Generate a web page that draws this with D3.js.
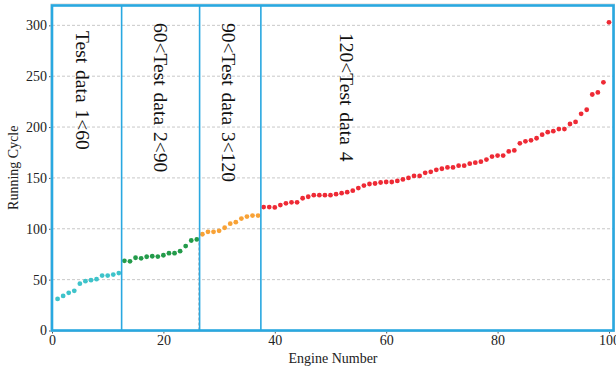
<!DOCTYPE html>
<html>
<head>
<meta charset="utf-8">
<script src="https://cdn.jsdelivr.net/npm/d3@7"></script>
<style>
  body { margin: 0; background: #fff; }
  svg { display: block; font-family: "Liberation Serif", "Times New Roman", serif; }
  .grid line { stroke: #c8c8c8; stroke-dasharray: 3,2; }
</style>
</head>
<body>
<script>
// running cycle of each engine, engines numbered 1..100
const cycles = [31, 34, 37, 39, 46, 48.5, 49.5, 50.5, 54, 54, 55, 56.5,
  68.5, 68, 71.5, 71, 72.5, 73, 72.7, 74, 76, 76, 78, 83, 88.5, 89.5,
  94.6, 97, 97, 98, 101, 105, 106.5, 110, 112, 113, 113,
  121.3, 121.3, 121, 123.3, 125, 126, 126, 130, 131.5, 133, 133, 133, 133, 134, 135, 136, 137.5,
  140, 142.5, 144, 144.5, 145.5, 146, 146, 147, 148.5, 150, 152, 152, 155, 156, 158, 159,
  160.3, 160.3, 162, 162, 164, 165, 166, 168, 171, 172, 172, 176, 177, 184, 186, 187,
  189, 192.5, 195, 196, 198, 198, 203, 205, 213, 217, 232, 234, 244, 303];
// group limits on the engine axis and their labels
const splits = [12.5, 26.5, 37.5];
const groupNames = ["Test data 1<60", "60<Test data 2<90", "90<Test data 3<120", "120<Test data 4"];
const groupColors = ["#3ec3ca", "#239b4a", "#f8a236", "#ee2a35"];
const labelPos = [5.6, 19.5, 31.7, 53];
const xTicks = [0, 20, 40, 60, 80, 100];
const yTicks = [0, 50, 100, 150, 200, 250, 300];

const W = 616, H = 370;
const margin = { top: 5.5, left: 52, right: 2, bottom: 39.5 };

const svg = d3.select("body").append("svg").attr("width", W).attr("height", H);

const x = d3.scaleLinear().domain([0, 100.9]).range([margin.left, W - margin.right]);
const y = d3.scaleLinear().domain([0, 319.5]).range([H - margin.bottom, margin.top]);

const group = e => e <= splits[0] ? 0 : e <= splits[1] ? 1 : e <= splits[2] ? 2 : 3;
const pts = cycles.map((v, i) => ({ e: i + 1, v: v, g: group(i + 1) }));

// horizontal dashed grid
svg.append("g").attr("class", "grid")
  .selectAll("line").data(yTicks.slice(1)).join("line")
  .attr("x1", margin.left).attr("x2", W - margin.right)
  .attr("y1", d => y(d)).attr("y2", d => y(d));

// faint dashed guide under second split
svg.append("line")
  .attr("x1", x(26.3)).attr("x2", x(26.3))
  .attr("y1", y(0)).attr("y2", y(89))
  .attr("stroke", "#c8c8c8").attr("stroke-dasharray", "3,2");

// axes
const xAxis = svg.append("g").attr("transform", `translate(0,${y(0)})`)
  .call(d3.axisBottom(x).tickValues(xTicks).tickSize(3).tickPadding(2));
const yAxis = svg.append("g").attr("transform", `translate(${margin.left},0)`)
  .call(d3.axisLeft(y).tickValues(yTicks).tickSize(3).tickPadding(2));
[xAxis, yAxis].forEach(a => {
  a.select(".domain").remove();
  a.selectAll(".tick line").attr("stroke", "#555");
  a.selectAll("text").attr("font-family", "Liberation Serif").attr("font-size", 14).attr("fill", "#222");
});

// points
svg.append("g").selectAll("circle").data(pts).join("circle")
  .attr("cx", d => x(d.e)).attr("cy", d => y(d.v)).attr("r", 2.4)
  .attr("fill", d => groupColors[d.g]);

// split lines
svg.append("g").selectAll("line").data(splits).join("line")
  .attr("x1", d => x(d)).attr("x2", d => x(d))
  .attr("y1", y(0)).attr("y2", margin.top)
  .attr("stroke", "#29a8e0").attr("stroke-width", 1.6);

// frame
svg.append("rect")
  .attr("x", margin.left - 1).attr("y", margin.top - 1.5)
  .attr("width", W - margin.right - margin.left + 1.5).attr("height", y(0) - margin.top + 2.5)
  .attr("fill", "none").attr("stroke", "#d8d8d8").attr("stroke-width", 1);
svg.append("rect")
  .attr("x", margin.left).attr("y", margin.top)
  .attr("width", W - margin.right - margin.left - 0.5).attr("height", y(0) - margin.top)
  .attr("fill", "none").attr("stroke", "#29a8e0").attr("stroke-width", 2.6);

// group labels, rotated
svg.append("g").selectAll("text").data(groupNames).join("text")
  .attr("transform", (d, i) => `translate(${x(labelPos[i])},${i === 0 ? 31 : i === 3 ? 33 : 23}) rotate(90)`)
  .attr("dy", "0.35em")
  .attr("font-size", 19.5).attr("word-spacing", 2).attr("fill", "#111")
  .text(d => d);

// axis titles
svg.append("text").attr("x", (margin.left + W - margin.right) / 2).attr("y", 363)
  .attr("text-anchor", "middle").attr("font-size", 14).attr("fill", "#222")
  .text("Engine Number");
svg.append("text").attr("transform", `translate(18,${y(160)}) rotate(-90)`)
  .attr("text-anchor", "middle").attr("font-size", 14).attr("fill", "#222")
  .text("Running Cycle");
</script>
</body>
</html>
